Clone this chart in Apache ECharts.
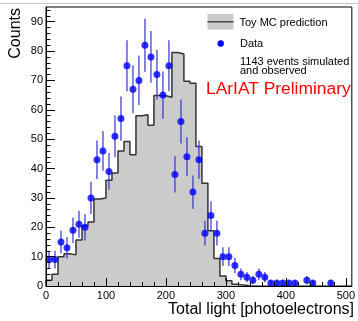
<!DOCTYPE html>
<html>
<head>
<meta charset="utf-8">
<script src="https://cdn.jsdelivr.net/npm/echarts@6/dist/echarts.min.js"></script>
<style>
  html, body { margin: 0; padding: 0; background: #fff; }
  #chart { width: 358px; height: 321px; }
</style>
</head>
<body>
<div id="chart"></div>
<script>
// Toy MC prediction: bin lower edges (width 10 p.e.) and bin contents
const mcEdges = [0, 10, 20, 30, 40, 50, 60, 70, 80, 90,
                 100, 110, 120, 130, 140, 150, 160, 170, 180, 190,
                 200, 210, 220, 230, 240, 250, 260, 270, 280, 290,
                 300, 310, 320, 330, 340];
const mcCounts = [2, 4, 10, 11, 10.6, 15.7, 20.4, 21.8, 29.6, 30,
                  36, 38.5, 46, 49.2, 44.7, 58, 58.3, 54.7, 64.9, 64.8,
                  64.3, 79.5, 79, 69.7, 69, 47.5, 35, 18.8, 9.4, 3.4,
                  1.8, 0.6, 0.3, 0.1];

// Measured data: bin centres and event counts
const dataCenters = [5, 15, 25, 35, 45, 55, 65, 75, 85, 95,
                     105, 115, 125, 135, 145, 155, 165, 175, 185, 195,
                     205, 215, 225, 235, 245, 255, 265, 275, 285, 295,
                     305, 315, 325, 335, 345, 355, 365, 375, 385, 395,
                     405, 415, 425, 435, 445, 455, 465, 475];
const dataCounts = [9, 9, 15, 13, 19, 21, 20, 30, 43, 46,
                    39, 51, 57, 75, 67, 70, 82, 78, 72, 65,
                    75, 38, 56, 44, 32, 43, 18, 24, 18, 10,
                    10, 7, 4, 3, 2, 4, 3, 1, 1, 1,
                    1, 1, 0, 2, 1, 0, 0, 1];

// Axis ticks and labels
const xMajor = [0, 100, 200, 300, 400, 500];
const xMinor = [20, 40, 60, 80, 120, 140, 160, 180, 220, 240, 260, 280,
                320, 340, 360, 380, 420, 440, 460, 480];
const yMajor = [0, 10, 20, 30, 40, 50, 60, 70, 80, 90];
const yMinor = [2, 4, 6, 8, 12, 14, 16, 18, 22, 24, 26, 28, 32, 34, 36, 38,
                42, 44, 46, 48, 52, 54, 56, 58, 62, 64, 66, 68, 72, 74, 76, 78,
                82, 84, 86, 88, 92, 94];

const FONT = '"Liberation Sans", Arial, Helvetica, sans-serif';

// Step outline of the prediction: start at the axis, end back on it
const mcLine = [[mcEdges[0], 0]];
for (let i = 0; i < mcCounts.length; i++) mcLine.push([mcEdges[i], mcCounts[i]]);
mcLine.push([mcEdges[mcEdges.length - 1], 0]);

// Data points with Poisson errors; empty bins are not drawn
const points = [];
for (let i = 0; i < dataCenters.length; i++) {
  if (dataCounts[i] > 0) points.push([dataCenters[i], dataCounts[i], Math.sqrt(dataCounts[i])]);
}

const chart = echarts.init(document.getElementById('chart'), null, { renderer: 'canvas' });

const baseX = { type: 'value', min: 0, max: 510, gridIndex: 0, position: 'bottom', splitLine: { show: false } };
const baseY = { type: 'value', min: 0, max: 95, gridIndex: 0, position: 'left', splitLine: { show: false } };

chart.setOption({
  animation: false,
  backgroundColor: '#fff',
  grid: { left: 46, top: 7, width: 308, height: 279, show: true, borderColor: '#000', borderWidth: 1, backgroundColor: 'transparent' },
  xAxis: [
    Object.assign({}, baseX, {
      z: 10,
      axisLine: { show: true, lineStyle: { color: '#000', width: 1 } },
      axisTick: { show: true, inside: true, length: 8, customValues: xMajor, lineStyle: { color: '#000' } },
      axisLabel: { show: true, customValues: xMajor, margin: 4, color: '#000', fontSize: 11, fontFamily: FONT }
    }),
    Object.assign({}, baseX, {
      z: 10,
      axisLine: { show: false },
      axisTick: { show: true, inside: true, length: 4, customValues: xMinor, lineStyle: { color: '#000' } },
      axisLabel: { show: false }
    })
  ],
  yAxis: [
    Object.assign({}, baseY, {
      z: 10,
      axisLine: { show: true, lineStyle: { color: '#000', width: 1 } },
      axisTick: { show: true, inside: true, length: 9, customValues: yMajor, lineStyle: { color: '#000' } },
      axisLabel: { show: true, customValues: yMajor, margin: 3, color: '#000', fontSize: 11, fontFamily: FONT }
    }),
    Object.assign({}, baseY, {
      z: 10,
      axisLine: { show: false },
      axisTick: { show: true, inside: true, length: 4.5, customValues: yMinor, lineStyle: { color: '#000' } },
      axisLabel: { show: false }
    })
  ],
  series: [
    {
      name: 'Toy MC prediction',
      type: 'line',
      xAxisIndex: 0, yAxisIndex: 0,
      step: 'end',
      symbol: 'none',
      data: mcLine,
      lineStyle: { color: '#333', width: 1.5 },
      areaStyle: { color: '#cbcbcb', opacity: 1 },
      z: 2
    },
    {
      name: 'Data errors',
      type: 'custom',
      xAxisIndex: 0, yAxisIndex: 0,
      data: points,
      encode: { x: 0, y: 1 },
      renderItem: function (params, api) {
        const x = api.value(0), y = api.value(1), e = api.value(2);
        const lo = api.coord([x, y - e]);
        const hi = api.coord([x, y + e]);
        return {
          type: 'line',
          shape: { x1: lo[0], y1: lo[1], x2: hi[0], y2: hi[1] },
          style: { stroke: 'rgba(50,50,205,0.7)', lineWidth: 1.7 }
        };
      },
      z: 3
    },
    {
      name: 'Data',
      type: 'scatter',
      xAxisIndex: 0, yAxisIndex: 0,
      data: points.map(p => [p[0], p[1]]),
      symbol: 'circle',
      symbolSize: 7,
      itemStyle: { color: '#0000ff' },
      z: 4
    }
  ],
  graphic: [
    // thin rule along the top of the canvas
    { type: 'line', shape: { x1: 0, y1: 3.5, x2: 358, y2: 3.5 }, style: { stroke: '#c4c4c4', lineWidth: 1 }, z: 20 },
    // axis titles
    { type: 'text', x: 15.5, y: 8, rotation: Math.PI / 2,
      style: { text: 'Counts', font: '16px ' + FONT, fill: '#000', textAlign: 'right', textVerticalAlign: 'middle' }, z: 20 },
    { type: 'text', x: 354, y: 310,
      style: { text: 'Total light [photoelectrons]', font: '16px ' + FONT, fill: '#000', textAlign: 'right', textVerticalAlign: 'middle' }, z: 20 },
    // legend: prediction
    { type: 'rect', shape: { x: 207.5, y: 14, width: 26, height: 15.5 }, style: { fill: '#cbcbcb' }, z: 20 },
    { type: 'line', shape: { x1: 207.5, y1: 21.8, x2: 233.5, y2: 21.8 }, style: { stroke: '#333', lineWidth: 1.3 }, z: 21 },
    { type: 'text', x: 239.5, y: 22.5,
      style: { text: 'Toy MC prediction', font: '11px ' + FONT, fill: '#000', textAlign: 'left', textVerticalAlign: 'middle' }, z: 20 },
    // legend: data
    { type: 'circle', shape: { cx: 220.7, cy: 43.5, r: 3.2 }, style: { fill: '#0000ff' }, z: 20 },
    { type: 'text', x: 240, y: 43.5,
      style: { text: 'Data', font: '11px ' + FONT, fill: '#000', textAlign: 'left', textVerticalAlign: 'middle' }, z: 20 },
    { type: 'text', x: 240, y: 61.7,
      style: { text: '1143 events simulated', font: '11px ' + FONT, fill: '#000', textAlign: 'left', textVerticalAlign: 'middle' }, z: 20 },
    { type: 'text', x: 240, y: 71.2,
      style: { text: 'and observed', font: '11px ' + FONT, fill: '#000', textAlign: 'left', textVerticalAlign: 'middle' }, z: 20 },
    { type: 'text', x: 206, y: 89.5,
      style: { text: 'LArIAT Preliminary', font: '17.4px ' + FONT, fill: '#ff0000', textAlign: 'left', textVerticalAlign: 'middle' }, z: 20 }
  ]
});
</script>
</body>
</html>
